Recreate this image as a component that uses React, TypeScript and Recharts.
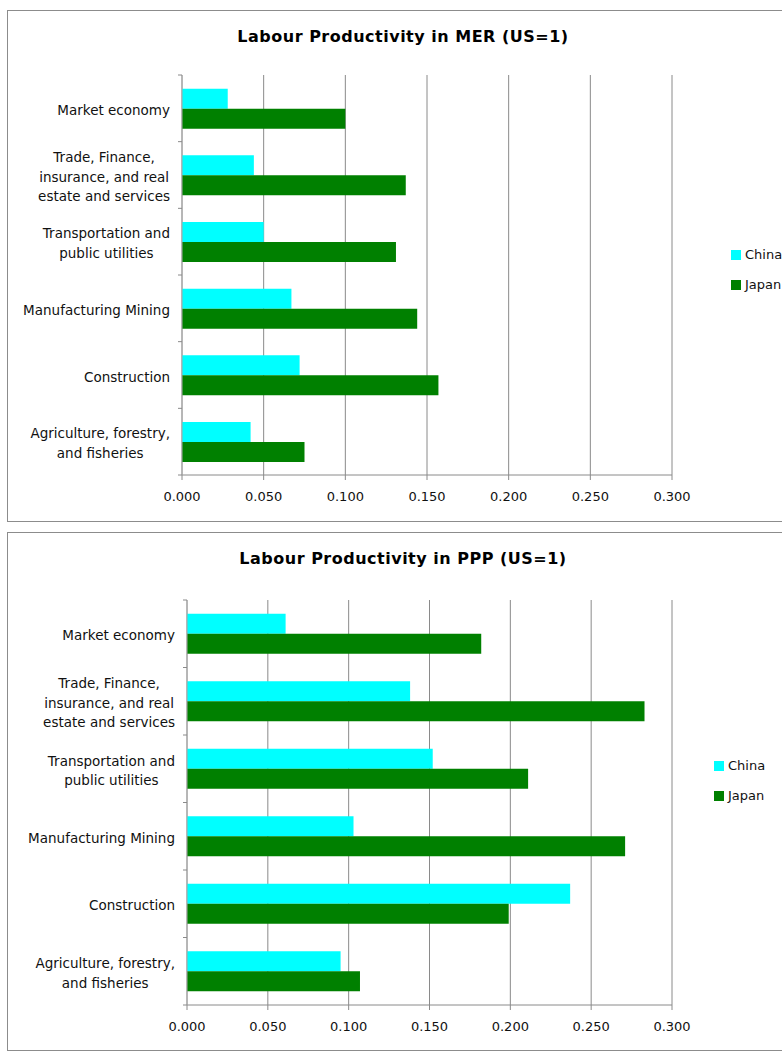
import React from "react";
import {
  BarChart,
  Bar,
  XAxis,
  YAxis,
  CartesianGrid,
  Legend,
} from "recharts";

const categories = [
  "Market economy",
  "Trade, Finance, insurance, and real estate and services",
  "Transportation and public utilities",
  "Manufacturing Mining",
  "Construction",
  "Agriculture, forestry, and fisheries",
];

// MER (US=1)
const merChina = [0.028, 0.044, 0.05, 0.067, 0.072, 0.042];
const merJapan = [0.1, 0.137, 0.131, 0.144, 0.157, 0.075];

// PPP (US=1)
const pppChina = [0.061, 0.138, 0.152, 0.103, 0.237, 0.095];
const pppJapan = [0.182, 0.283, 0.211, 0.271, 0.199, 0.107];

const xTicks = [0, 0.05, 0.1, 0.15, 0.2, 0.25, 0.3];

const CHINA = "#00ffff";
const JAPAN = "#008000";
const GRID = "#8a8a8a";
const FONT = "'DejaVu Sans', sans-serif";

function buildRows(china: number[], japan: number[]) {
  return categories.map((name, i) => ({ name, China: china[i], Japan: japan[i] }));
}

// excel-ish wrapping of the long category names
function wrap(text: string, max = 22) {
  const words = text.split(" ");
  const lines: string[] = [];
  let cur = "";
  for (const w of words) {
    const next = cur ? cur + " " + w : w;
    if (next.length > max && cur) {
      lines.push(cur);
      cur = w;
    } else cur = next;
  }
  if (cur) lines.push(cur);
  return lines;
}

let ctx: CanvasRenderingContext2D | null = null;
function measure(s: string, font: string) {
  if (!ctx) ctx = document.createElement("canvas").getContext("2d");
  if (!ctx) return s.length * 7.5;
  ctx.font = font;
  return ctx.measureText(s).width;
}

function makeTick(axisX: number, count: number) {
  return (props: any) => {
    const { y, payload, index } = props;
    const half = payload?.offset ?? 33;
    const lines = wrap(String(payload.value));
    const fs = 13.5;
    const widths = lines.map((l) => measure(l, `${fs}px 'DejaVu Sans'`));
    const blockW = Math.max(...widths);
    const cx = axisX - 12 - blockW / 2;
    const lh = 19.5;
    const y0 = y + 1.5 - ((lines.length - 1) * lh) / 2;
    return (
      <g>
        <line x1={axisX - 4} x2={axisX} y1={y - half} y2={y - half} stroke={GRID} />
        {index === count - 1 && (
          <line x1={axisX - 4} x2={axisX} y1={y + half} y2={y + half} stroke={GRID} />
        )}
        <text
          textAnchor="middle"
          dominantBaseline="central"
          fontSize={fs}
          fontFamily={FONT}
          fill="#111"
        >
          {lines.map((l, i) => (
            <tspan key={i} x={cx} y={y0 + i * lh}>
              {l}
            </tspan>
          ))}
        </text>
      </g>
    );
  };
}

function LegendBox() {
  const items = [
    { label: "China", color: CHINA },
    { label: "Japan", color: JAPAN },
  ];
  return (
    <div style={{ fontFamily: FONT, fontSize: 13, color: "#111" }}>
      {items.map((it) => (
        <div
          key={it.label}
          style={{ display: "flex", alignItems: "center", height: 30, lineHeight: "30px" }}
        >
          <span
            style={{
              display: "inline-block",
              width: 10,
              height: 10,
              background: it.color,
              marginRight: 4,
            }}
          />
          {it.label}
        </div>
      ))}
    </div>
  );
}

interface PanelProps {
  title: string;
  china: number[];
  japan: number[];
  top: number;
  height: number;
  axisWidth: number;
  marginTop: number;
  bottomSpace: number;
  titleTop: number;
  legendLeft: number;
  legendTop: number;
}

function Panel(p: PanelProps) {
  const W = 790;
  const H = p.height - 2;
  const data = buildRows(p.china, p.japan);
  return (
    <div
      style={{
        position: "absolute",
        left: 7,
        top: p.top,
        width: W + 2,
        height: p.height,
        border: "1px solid #8c8c8c",
        boxSizing: "border-box",
        background: "#fff",
      }}
    >
      <div
        style={{
          position: "absolute",
          top: p.titleTop,
          left: 0,
          width: W,
          textAlign: "center",
          fontFamily: FONT,
          fontWeight: "bold",
          fontSize: 16,
          letterSpacing: 0.5,
          color: "#000",
          zIndex: 2,
        }}
      >
        {p.title}
      </div>
      <BarChart
        width={W}
        height={H}
        data={data}
        layout="vertical"
        margin={{ top: p.marginTop, right: 126, bottom: p.bottomSpace - 30, left: 0 }}
        barGap={0}
        barCategoryGap="20.5%"
      >
        <CartesianGrid horizontal={false} stroke={GRID} strokeWidth={1} />
        <XAxis
          type="number"
          domain={[0, 0.3]}
          ticks={xTicks}
          interval={0}
          height={30}
          tickFormatter={(v: number) => v.toFixed(3)}
          tick={{ fontSize: 13, fontFamily: FONT, fill: "#111" }}
          axisLine={{ stroke: GRID }}
          tickLine={{ stroke: GRID }}
          tickSize={5}
          tickMargin={12}
        />
        <YAxis
          type="category"
          dataKey="name"
          width={p.axisWidth}
          interval={0}
          axisLine={{ stroke: "#a8a8a8" }}
          tickLine={false}
          tick={makeTick(p.axisWidth, categories.length)}
        />
        <Legend
          layout="horizontal"
          align="center"
          verticalAlign="middle"
          content={() => <LegendBox />}
          wrapperStyle={{ left: p.legendLeft, top: p.legendTop, width: 80 }}
        />
        <Bar dataKey="China" fill={CHINA} isAnimationActive={false} />
        <Bar dataKey="Japan" fill={JAPAN} isAnimationActive={false} />
      </BarChart>
    </div>
  );
}

export default function App() {
  return (
    <div
      style={{
        position: "absolute",
        left: 0,
        top: 0,
        width: 782,
        height: 1053,
        overflow: "hidden",
        background: "#fff",
      }}
    >
      <Panel
        title="Labour Productivity in MER (US=1)"
        china={merChina}
        japan={merJapan}
        top={10}
        height={512}
        axisWidth={174}
        marginTop={64}
        bottomSpace={46}
        titleTop={16}
        legendLeft={723}
        legendTop={229}
      />
      <Panel
        title="Labour Productivity in PPP (US=1)"
        china={pppChina}
        japan={pppJapan}
        top={532}
        height={519}
        axisWidth={179}
        marginTop={67}
        bottomSpace={45}
        titleTop={16}
        legendLeft={706}
        legendTop={218}
      />
    </div>
  );
}
